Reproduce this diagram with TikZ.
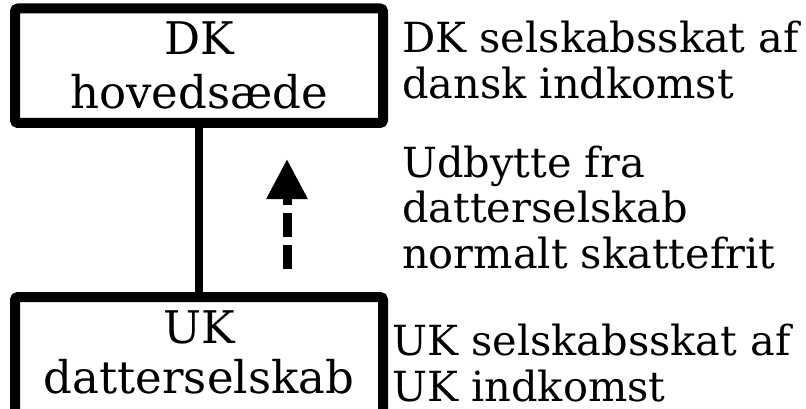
\documentclass[tikz,border=0pt]{standalone}
\usepackage{fontspec}
\setmainfont{DejaVu Serif}
\usetikzlibrary{arrows.meta}
\begin{document}
\begin{tikzpicture}[x=1pt,y=-1pt,
  box/.style={draw, line width=10pt, rounded corners=3pt, outer sep=0pt, inner sep=0pt, minimum width=368pt},
  boxtxt/.style={inner sep=0pt, anchor=base, font=\fontsize{45}{54}\selectfont},
  sidetxt/.style={inner sep=0pt, anchor=base west, font=\fontsize{41.5}{46}\selectfont},
  link/.style={line width=8pt},
  flow/.style={line width=9pt, dash pattern=on 24pt off 8pt, -{Triangle[length=40pt,width=39pt]}}]
\useasboundingbox (0,0) rectangle (806,409);
\clip (0,0) rectangle (806,409);
\node[box, minimum height=114.5pt] (dk) at (199,65.75) {};
\node[box, minimum height=118pt] (uk) at (199,356) {};
\draw[link] (dk.south) -- (uk.north);
\coordinate (ps) at (287,269);
\coordinate (pe) at (287,159);
\draw[flow] (ps) -- (pe);
\node[boxtxt] (dkt) at (199,55) {\begin{tabular}[t]{@{}c@{}}DK\\hovedsæde\end{tabular}};
\node[boxtxt] (ukt) at (199,343) {\fontsize{45}{50}\selectfont\begin{tabular}[t]{@{}c@{}}UK\\datterselskab\end{tabular}};
\node[sidetxt] (s1) at (402,53) {\begin{tabular}[t]{@{}l@{}}DK selskabsskat af\\dansk indkomst\end{tabular}};
\node[sidetxt] (s2) at (402,177) {\begin{tabular}[t]{@{}l@{}}Udbytte fra\\datterselskab\\normalt skattefrit\end{tabular}};
\node[sidetxt] (s3) at (392,355) {\begin{tabular}[t]{@{}l@{}}UK selskabsskat af\\UK indkomst\end{tabular}};
\end{tikzpicture}
\end{document}
